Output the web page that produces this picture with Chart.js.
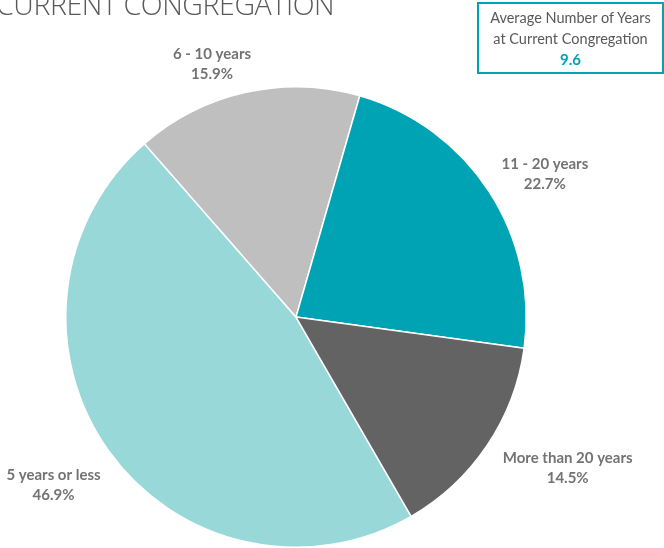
<!DOCTYPE html>
<html><head><meta charset="utf-8">
<script src="https://cdn.jsdelivr.net/npm/chart.js@4/dist/chart.umd.min.js"></script>
<style>
html,body{margin:0;padding:0;background:#fff;overflow:hidden}
#wrap{position:relative;width:664px;height:548px}
#title{position:absolute;left:-4px;top:-15px;font-family:"Open Sans",sans-serif;font-weight:300;font-size:28.5px;color:#595959;white-space:nowrap;letter-spacing:-0.4px}
#box{position:absolute;left:477px;top:2px;width:183px;height:64px;border:2px solid #00a3b4;box-sizing:content-box;font-family:Lato,sans-serif;font-size:14.5px;color:#595959;text-align:center;line-height:20.5px;padding-top:4px}
#box .v{color:#00a3b4;font-weight:bold;font-size:15px}
canvas{position:absolute;left:0;top:0}
</style></head>
<body><div id="wrap">
<canvas id="c" width="664" height="548"></canvas>
<div id="title">CURRENT CONGREGATION</div>
<div id="box">Average Number of Years<br>at Current Congregation<br><span class="v">9.6</span></div>
</div>
<script>
const categories = ["5 years or less", "6 - 10 years", "11 - 20 years", "More than 20 years"];
const values = [46.9, 15.9, 22.7, 14.5];
const colors = ["#99d8d9", "#bfbfbf", "#00a3b4", "#636363"];
// label placement: [radial factor, extra dx, extra dy]
const labelPos = [[1.22, -14, 5], [1.08, -30, -10], [1.16, 25, 3], [1.16, 50, 2]];

const labelPlugin = {
  id: 'outLabels',
  afterDatasetsDraw(chart) {
    const ctx = chart.ctx;
    const meta = chart.getDatasetMeta(0);
    ctx.save();
    ctx.font = "bold 15px Lato, sans-serif";
    ctx.fillStyle = "#737373";
    ctx.textAlign = "center";
    ctx.textBaseline = "middle";
    meta.data.forEach((arc, i) => {
      const mid = (arc.startAngle + arc.endAngle) / 2;
      const r = arc.outerRadius * labelPos[i][0];
      const x = arc.x + Math.cos(mid) * r + labelPos[i][1];
      const y = arc.y + Math.sin(mid) * r + labelPos[i][2];
      ctx.fillText(categories[i], x, y - 10);
      ctx.fillText(values[i].toFixed(1) + "%", x, y + 10);
    });
    ctx.restore();
  }
};

new Chart(document.getElementById('c'), {
  type: 'pie',
  data: { labels: categories, datasets: [{ data: values, backgroundColor: colors, borderColor: "#ffffff", borderWidth: 1.5 }] },
  options: {
    responsive: false, animation: false, rotation: 150,
    layout: { padding: { left: 64, right: 136, top: 86, bottom: 0 } },
    plugins: { legend: { display: false }, tooltip: { enabled: false }, title: { display: false } }
  },
  plugins: [labelPlugin]
});
</script></body></html>
